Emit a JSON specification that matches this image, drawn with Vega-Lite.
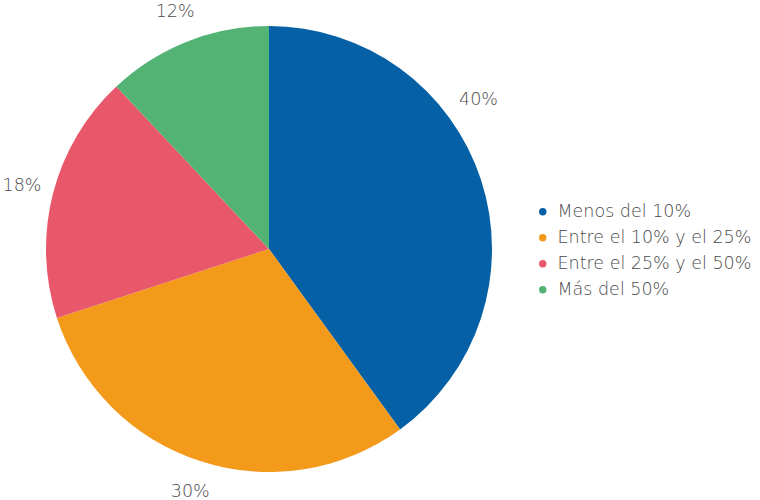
{
  "$schema": "https://vega.github.io/schema/vega-lite/v6.json",
  "autosize": "none",
  "width": 538,
  "height": 498,
  "padding": {"left": 0, "top": 0, "right": 222, "bottom": 2},
  "background": "white",
  "data": {"values": [
    {"cat": "Menos del 10%", "val": 40, "label": "40%", "ord": 1},
    {"cat": "Entre el 10% y el 25%", "val": 30, "label": "30%", "ord": 2},
    {"cat": "Entre el 25% y el 50%", "val": 18, "label": "18%", "ord": 3},
    {"cat": "Más del 50%", "val": 12, "label": "12%", "ord": 4}
  ]},
  "encoding": {
    "theta": {"field": "val", "type": "quantitative", "stack": true},
    "order": {"field": "ord", "type": "quantitative"}
  },
  "layer": [
    {
      "mark": {"type": "arc", "outerRadius": 223},
      "encoding": {
        "color": {
          "field": "cat", "type": "nominal",
          "sort": ["Menos del 10%", "Entre el 10% y el 25%", "Entre el 25% y el 50%", "Más del 50%"],
          "scale": {"domain": ["Menos del 10%", "Entre el 10% y el 25%", "Entre el 25% y el 50%", "Más del 50%"], "range": ["#0560A6", "#F39A1A", "#E9586A", "#52B374"]},
          "legend": {
            "title": null, "orient": "none", "legendX": 534, "legendY": 203,
            "symbolType": "circle", "symbolSize": 55, "labelOffset": 6,
            "labelFont": "DejaVu Sans", "labelFontSize": 17.5, "labelFontWeight": 300, "labelColor": "#4a4a4c",
            "rowPadding": 7, "labelLimit": 300
          }
        }
      }
    },
    {
      "mark": {"type": "text", "radius": 255, "font": "DejaVu Sans", "fontSize": 17.5, "fontWeight": 300, "color": "#4a4a4c"},
      "encoding": {"text": {"condition": {"test": "datum.ord == 1", "value": ""}, "field": "label"}}
    },
    {
      "mark": {"type": "text", "radius": 255, "dx": -33, "dy": -70, "font": "DejaVu Sans", "fontSize": 17.5, "fontWeight": 300, "color": "#4a4a4c"},
      "encoding": {"text": {"condition": {"test": "datum.ord != 1", "value": ""}, "field": "label"}}
    }
  ]
}
